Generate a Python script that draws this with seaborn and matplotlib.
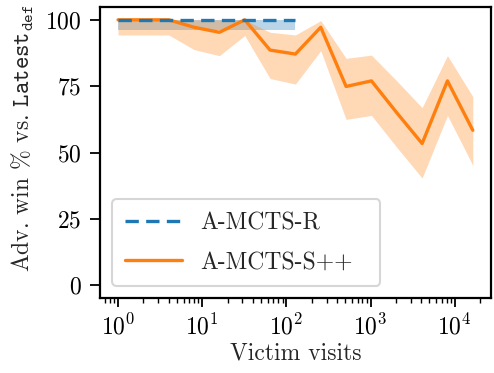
import matplotlib
matplotlib.use('Agg')
import numpy as np
import pandas as pd
import matplotlib.pyplot as plt
import seaborn as sns

# Data
visits = [1, 2, 4, 8, 16, 32, 64, 128, 256, 512, 1024, 2048, 4096, 8192, 16384]
sm_mean = [100, 100, 100, 97.2, 95.3, 100, 88.6, 87.1, 97.2, 74.9, 77.0, 65.0, 53.4, 77.0, 58.4]
sm_low = [94.3, 94.3, 94.3, 88.8, 86.5, 94.1, 77.9, 75.8, 88.4, 62.5, 64.0, 52.0, 40.4, 64.0, 45.2]
sm_high = [100, 100, 100, 100, 100, 100, 95.3, 94.3, 99.7, 85.5, 86.7, 77.0, 66.9, 86.5, 71.1]

r_visits = [1, 2, 4, 8, 16, 32, 64, 128]
r_mean = [100, 100, 100, 100, 100, 100, 100, 100]
r_low = [96.3, 96.3, 96.3, 96.3, 96.3, 96.3, 96.3, 96.3]
r_high = [100, 100, 100, 100, 100, 100, 100, 100]

sns.set_style('ticks')
plt.rcParams['font.family'] = 'serif'
plt.rcParams['font.serif'] = ['cmr10']
plt.rcParams['mathtext.fontset'] = 'cm'
plt.rcParams['axes.formatter.use_mathtext'] = True
plt.rcParams['font.size'] = 17

blue = '#1f77b4'
orange = '#ff7f0e'

fig = plt.figure(figsize=(4.94, 3.73), dpi=100)
ax = fig.add_axes([0.203, 0.201, 0.790, 0.780])

df_r = pd.DataFrame({'visits': r_visits, 'win': r_mean})
df_s = pd.DataFrame({'visits': visits, 'win': sm_mean})

ax.fill_between(r_visits, r_low, r_high, color=blue, alpha=0.3, linewidth=0)
ax.fill_between(visits, sm_low, sm_high, color=orange, alpha=0.3, linewidth=0)
sns.lineplot(data=df_r, x='visits', y='win', ax=ax, color=blue, linewidth=2.4,
             dashes=False, label='A-MCTS-R', zorder=4)
sns.lineplot(data=df_s, x='visits', y='win', ax=ax, color=orange, linewidth=2.4,
             label='A-MCTS-S++', zorder=3)
ax.lines[0].set_dashes((4, 2.2))

ax.set_xscale('log')
ax.set_ylim(-4.8, 104.8)
ax.set_yticks([0, 25, 50, 75, 100])
ax.set_xlabel('Victim visits', fontsize=17, labelpad=2)
ax.set_ylabel(r'Adv. win % vs. $\mathtt{Latest}_{\mathtt{def}}$', fontsize=17)
ax.yaxis.set_label_coords(-0.165, 0.55)
ax.tick_params(axis='both', which='major', labelsize=17, length=6.5, width=1.3, direction='out', colors='black', pad=5)
ax.tick_params(axis='y', which='major', length=7.5, pad=6)
ax.tick_params(axis='x', which='minor', length=3.5, width=1.0, direction='out', colors='black')
for s in ax.spines.values():
    s.set_visible(True)
    s.set_color('black')
    s.set_linewidth(1.6)

leg = ax.legend(loc='lower left', fontsize=17, handlelength=2.4, frameon=True,
                borderpad=0.55, labelspacing=0.7, handletextpad=0.8,
                mode='expand', bbox_to_anchor=(0.0, 0.0, 0.748, 1.0))
leg.get_frame().set_edgecolor('#cccccc')
leg.get_frame().set_linewidth(1.5)

fig.savefig('out.png', dpi=100)
